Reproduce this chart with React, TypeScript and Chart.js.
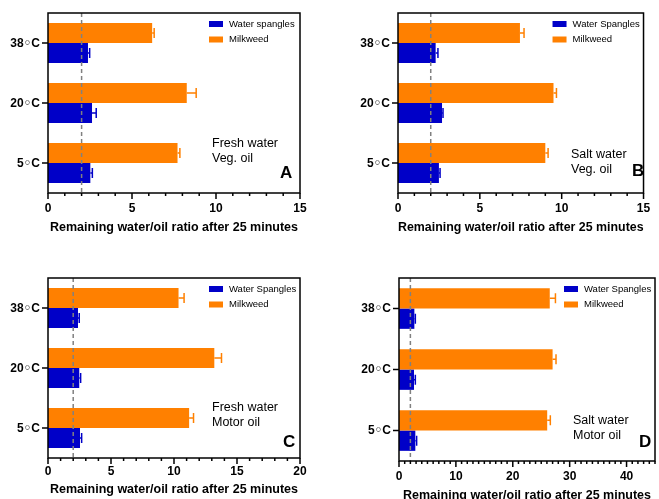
import React, { useEffect, useRef } from 'react';
import { Chart, registerables } from 'chart.js';

Chart.register(...registerables);

const FAMILY = '"Liberation Sans", Arial, Helvetica, sans-serif';
const RING_FAMILY = '"DejaVu Sans", sans-serif';
const ORANGE = '#ff8000';
const BLUE = '#0000c8';

// Temperatures, top to bottom
const temperatures = ['38◦C', '20◦C', '5◦C'];

// Reference ratio shown as the dashed line
const thresholdRatio = 2;

// A: fresh water, vegetable oil
const freshVegMilkweed = [6.2, 8.26, 7.71];
const freshVegMilkweedErr = [0.12, 0.56, 0.14];
const freshVegSpangles = [2.38, 2.62, 2.52];
const freshVegSpanglesErr = [0.1, 0.25, 0.12];

// B: salt water, vegetable oil
const saltVegMilkweed = [7.45, 9.5, 9.0];
const saltVegMilkweedErr = [0.25, 0.18, 0.17];
const saltVegSpangles = [2.3, 2.69, 2.5];
const saltVegSpanglesErr = [0.14, 0.06, 0.07];

// C: fresh water, motor oil
const freshMotorMilkweed = [10.36, 13.2, 11.2];
const freshMotorMilkweedErr = [0.44, 0.57, 0.35];
const freshMotorSpangles = [2.38, 2.48, 2.54];
const freshMotorSpanglesErr = [0.1, 0.11, 0.13];

// D: salt water, motor oil
const saltMotorMilkweed = [26.5, 27.0, 26.05];
const saltMotorMilkweedErr = [1.0, 0.6, 0.55];
const saltMotorSpangles = [2.7, 2.64, 2.87];
const saltMotorSpanglesErr = [0.17, 0.23, 0.23];

const xTitle = 'Remaining water/oil ratio after 25 minutes';

type PanelProps = {
  milk: number[];
  milkErr: number[];
  water: number[];
  waterErr: number[];
  waterLabel: string;
  xMax: number;
  xStep: number;
  notes: string[];
  letter: string;
  box: { left: number; top: number; width: number; height: number };
  area: { left: number; top: number; right: number; bottom: number };
  tickLabelY: number;
  titleY: number;
  noteX: number;
  noteY: number;
  letterX: number;
  letterY: number;
};

function Panel(p: PanelProps) {
  const ref = useRef<HTMLCanvasElement>(null);

  useEffect(() => {
    const canvas = ref.current;
    if (!canvas) return;

    const tickFont = 12;
    const titleFont = 12.5;
    const tickLH = tickFont * 1.2;
    const titleLH = titleFont * 1.2;

    const overlay = {
      id: 'overlay',
      afterDatasetsDraw(chart: any) {
        const { ctx, chartArea: a } = chart;
        const xs = chart.scales.x;
        const ys = chart.scales.y;
        ctx.save();

        // dashed reference line
        const tx = xs.getPixelForValue(thresholdRatio);
        ctx.strokeStyle = '#808080';
        ctx.lineWidth = 1.5;
        ctx.setLineDash([4, 3]);
        ctx.beginPath();
        ctx.moveTo(tx, a.top);
        ctx.lineTo(tx, a.bottom);
        ctx.stroke();
        ctx.setLineDash([]);

        // error bars (mean + SEM)
        const sets: [number, number[], string][] = [
          [0, p.milkErr, ORANGE],
          [1, p.waterErr, BLUE],
        ];
        sets.forEach(([di, errs, col]) => {
          const meta = chart.getDatasetMeta(di);
          const vals = chart.data.datasets[di].data as number[];
          meta.data.forEach((bar: any, j: number) => {
            const x0 = xs.getPixelForValue(vals[j]);
            const x1 = xs.getPixelForValue(vals[j] + errs[j]);
            const y = bar.y;
            ctx.strokeStyle = col;
            ctx.lineWidth = 1.5;
            ctx.beginPath();
            ctx.moveTo(x0, y);
            ctx.lineTo(x1, y);
            ctx.moveTo(x1, y - 5);
            ctx.lineTo(x1, y + 5);
            ctx.stroke();
          });
        });

        // frame
        ctx.strokeStyle = '#000';
        ctx.lineWidth = 1.5;
        ctx.strokeRect(a.left, a.top, a.right - a.left, a.bottom - a.top);

        // y tick marks and temperature labels (ring drawn in a font with a larger glyph)
        ctx.textBaseline = 'middle';
        ctx.textAlign = 'left';
        ys.ticks.forEach((_t: any, i: number) => {
          const y = ys.getPixelForTick(i);
          ctx.beginPath();
          ctx.moveTo(a.left - 6, y);
          ctx.lineTo(a.left, y);
          ctx.stroke();

          const label: string = temperatures[i];
          const ringAt = label.indexOf('◦');
          const parts: [string, string][] = [
            [label.slice(0, ringAt), `bold ${tickFont}px ${FAMILY}`],
            ['◦', `bold ${tickFont}px ${RING_FAMILY}`],
            [label.slice(ringAt + 1), `bold ${tickFont}px ${FAMILY}`],
          ];
          let total = 0;
          const widths = parts.map(([s, f]) => {
            ctx.font = f;
            const w = ctx.measureText(s).width;
            total += w;
            return w;
          });
          let x = a.left - 8 - total;
          ctx.fillStyle = '#000';
          parts.forEach(([s, f], k) => {
            ctx.font = f;
            ctx.fillText(s, x, y + 0.5);
            x += widths[k];
          });
        });

        // x tick marks, major and minor
        for (let v = 0; v <= p.xMax; v++) {
          const x = xs.getPixelForValue(v);
          const len = v % p.xStep === 0 ? 6 : 3;
          ctx.beginPath();
          ctx.moveTo(x, a.bottom);
          ctx.lineTo(x, a.bottom + len);
          ctx.stroke();
        }

        // legend
        const lx = a.right - 91;
        const rows: [string, string][] = [
          [p.waterLabel, BLUE],
          ['Milkweed', ORANGE],
        ];
        ctx.font = `9.5px ${FAMILY}`;
        rows.forEach(([label, col], i) => {
          const cy = a.top + 11 + i * 15.5;
          ctx.fillStyle = col;
          ctx.fillRect(lx, cy - 3, 14, 6);
          ctx.fillStyle = '#000';
          ctx.fillText(label, lx + 20, cy);
        });

        // condition notes
        ctx.font = `12.5px ${FAMILY}`;
        p.notes.forEach((line, i) => {
          ctx.fillText(line, p.noteX, p.noteY + i * 14.5);
        });

        // panel letter
        ctx.font = `bold 17px ${FAMILY}`;
        ctx.fillText(p.letter, p.letterX, p.letterY);

        ctx.restore();
      },
    };

    const chart = new Chart(canvas, {
      type: 'bar',
      data: {
        labels: temperatures,
        datasets: [
          {
            label: 'Milkweed',
            data: p.milk,
            backgroundColor: ORANGE,
            borderWidth: 0,
            categoryPercentage: 0.667,
            barPercentage: 1,
          },
          {
            label: p.waterLabel,
            data: p.water,
            backgroundColor: BLUE,
            borderWidth: 0,
            categoryPercentage: 0.667,
            barPercentage: 1,
          },
        ],
      },
      options: {
        indexAxis: 'y',
        animation: false,
        responsive: false,
        maintainAspectRatio: false,
        devicePixelRatio: 1,
        layout: {
          padding: {
            left: 0,
            top: p.area.top,
            right: p.box.width - p.area.right,
            bottom: 0,
          },
        },
        plugins: {
          legend: { display: false },
          tooltip: { enabled: false },
        },
        scales: {
          y: {
            type: 'category',
            grid: { display: false, drawTicks: false },
            border: { display: false },
            ticks: {
              display: false,
              font: { family: FAMILY, size: tickFont, weight: 'bold' },
            },
            afterFit: (s: any) => {
              s.width = p.area.left;
            },
          },
          x: {
            type: 'linear',
            min: 0,
            max: p.xMax,
            grid: { display: false, drawTicks: false },
            border: { display: false },
            afterBuildTicks: (s: any) => {
              const t = [];
              for (let v = 0; v <= p.xMax; v += p.xStep) t.push({ value: v });
              s.ticks = t;
            },
            ticks: {
              color: '#000',
              autoSkip: false,
              maxRotation: 0,
              padding: p.tickLabelY - p.area.bottom - tickLH / 2,
              font: { family: FAMILY, size: tickFont, weight: 'bold' },
            },
            title: {
              display: true,
              text: xTitle,
              color: '#000',
              font: { family: FAMILY, size: titleFont, weight: 'bold' },
              padding: { top: 0, bottom: p.box.height - p.titleY - titleLH / 2 },
            },
            afterFit: (s: any) => {
              s.height = p.box.height - p.area.bottom;
            },
          },
        },
      },
      plugins: [overlay],
    });

    return () => chart.destroy();
  }, []);

  return (
    <canvas
      ref={ref}
      width={p.box.width}
      height={p.box.height}
      style={{
        position: 'absolute',
        left: p.box.left,
        top: p.box.top,
        width: p.box.width,
        height: p.box.height,
      }}
    />
  );
}

export default function App() {
  return (
    <div
      style={{
        position: 'absolute',
        left: 0,
        top: 0,
        width: 659,
        height: 499,
        background: '#fff',
        overflow: 'hidden',
      }}
    >
      <Panel
        milk={freshVegMilkweed}
        milkErr={freshVegMilkweedErr}
        water={freshVegSpangles}
        waterErr={freshVegSpanglesErr}
        waterLabel="Water spangles"
        xMax={15}
        xStep={5}
        notes={['Fresh water', 'Veg. oil']}
        letter="A"
        box={{ left: 0, top: 0, width: 330, height: 250 }}
        area={{ left: 48, top: 13, right: 300, bottom: 193 }}
        tickLabelY={209}
        titleY={228}
        noteX={212}
        noteY={144}
        letterX={280}
        letterY={173}
      />
      <Panel
        milk={saltVegMilkweed}
        milkErr={saltVegMilkweedErr}
        water={saltVegSpangles}
        waterErr={saltVegSpanglesErr}
        waterLabel="Water Spangles"
        xMax={15}
        xStep={5}
        notes={['Salt water', 'Veg. oil']}
        letter="B"
        box={{ left: 330, top: 0, width: 329, height: 250 }}
        area={{ left: 68, top: 13, right: 321, bottom: 193 }}
        tickLabelY={209}
        titleY={228}
        noteX={241}
        noteY={155}
        letterX={302}
        letterY={171}
      />
      <Panel
        milk={freshMotorMilkweed}
        milkErr={freshMotorMilkweedErr}
        water={freshMotorSpangles}
        waterErr={freshMotorSpanglesErr}
        waterLabel="Water Spangles"
        xMax={20}
        xStep={5}
        notes={['Fresh water', 'Motor oil']}
        letter="C"
        box={{ left: 0, top: 250, width: 330, height: 249 }}
        area={{ left: 48, top: 28, right: 300, bottom: 208 }}
        tickLabelY={222}
        titleY={240}
        noteX={212}
        noteY={158}
        letterX={283}
        letterY={192}
      />
      <Panel
        milk={saltMotorMilkweed}
        milkErr={saltMotorMilkweedErr}
        water={saltMotorSpangles}
        waterErr={saltMotorSpanglesErr}
        waterLabel="Water Spangles"
        xMax={45}
        xStep={10}
        notes={['Salt water', 'Motor oil']}
        letter="D"
        box={{ left: 330, top: 250, width: 329, height: 249 }}
        area={{ left: 69, top: 28, right: 325, bottom: 211 }}
        tickLabelY={227}
        titleY={246}
        noteX={243}
        noteY={171}
        letterX={309}
        letterY={192}
      />
    </div>
  );
}
